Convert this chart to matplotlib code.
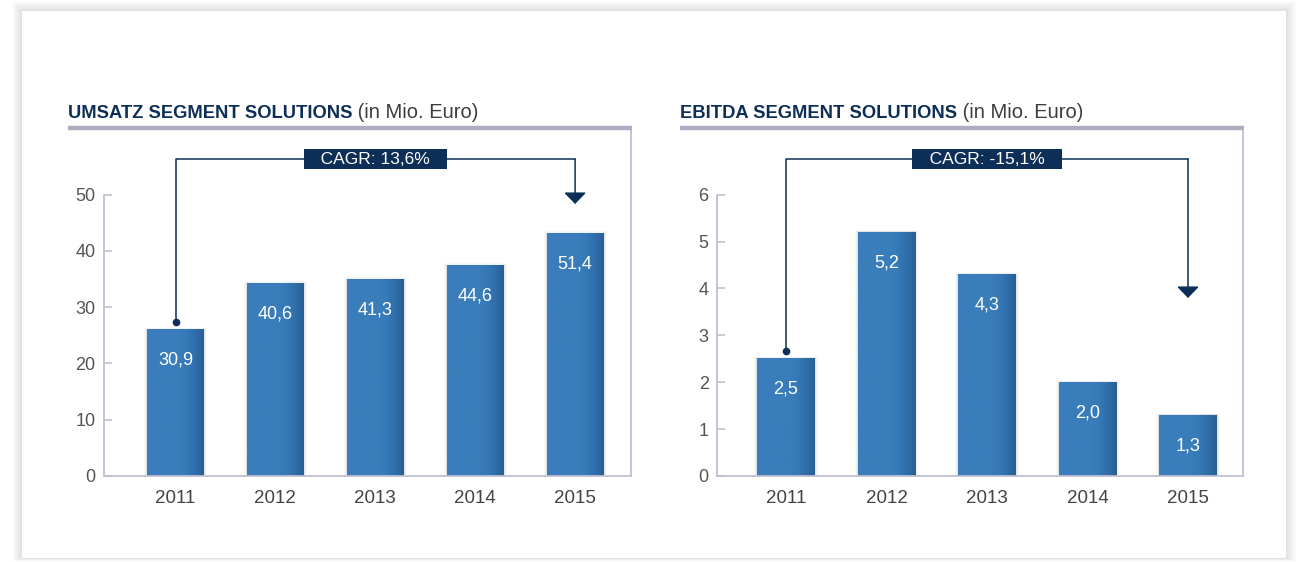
import numpy as np
import matplotlib.pyplot as plt
from matplotlib import font_manager as fm
from matplotlib.patches import Rectangle
from matplotlib.lines import Line2D
from matplotlib.colors import LinearSegmentedColormap
import matplotlib.transforms as mtransforms

# data
years = ['2011', '2012', '2013', '2014', '2015']
umsatz_heights = [26.0, 34.2, 34.9, 37.4, 43.1]   # bar heights as drawn against the axis
umsatz_labels = ['30,9', '40,6', '41,3', '44,6', '51,4']
ebitda_values = [2.5, 5.2, 4.3, 2.0, 1.3]
ebitda_labels = ['2,5', '5,2', '4,3', '2,0', '1,3']
umsatz_ticks = [0, 10, 20, 30, 40, 50]
ebitda_ticks = [0, 1, 2, 3, 4, 5, 6]

names = {f.name for f in fm.fontManager.ttflist}
FONT = 'Liberation Sans Narrow' if 'Liberation Sans Narrow' in names else 'Liberation Sans'
plt.rcParams['font.family'] = [FONT, 'DejaVu Sans']

NAVY = '#0d2f57'
GRID = '#c2bfd1'
W, H = 1301, 562


def fx(px):
    return px / W


def fy(py):
    return 1 - py / H


fig = plt.figure(figsize=(W / 100, H / 100), dpi=100)
fig.patch.set_facecolor('white')

# card with soft shadow
for i in range(10, 0, -1):
    fig.add_artist(Rectangle((fx(22 - i), fy(558 + i * 0.3)), fx(1264 + 2 * i), (547 + i * 1.3) / H,
                             transform=fig.transFigure, facecolor='black', alpha=0.012,
                             edgecolor='none', zorder=-5))
fig.add_artist(Rectangle((fx(22), fy(558)), fx(1264), 547 / H, transform=fig.transFigure,
                         facecolor='white', edgecolor='none', zorder=-4))

bar_cmap = LinearSegmentedColormap.from_list('bar', ['#3a7dbb', '#3579b7', '#2f6ea9', '#285f95'])
grad = np.concatenate([np.zeros(55), np.linspace(0, 1, 45)])[None, :]


def panel(head_x0, ax_x0, ax_x1, first_center, spacing, top, heights, labels, ticks,
          bold, tip_frac, cagr, dot_off):
    ax = fig.add_axes([fx(ax_x0), fy(476), fx(ax_x1 - ax_x0), (476 - 130) / H])
    ax.set_facecolor('none')
    x = np.arange(len(years))
    bw = 0.57
    # soft shadows, mostly above the bar tops
    for k, a in [(0.06, 0.025), (0.04, 0.035), (0.02, 0.05)]:
        ax.bar(x, np.array(heights) + k * top / 10, width=bw + k, color='#000000', alpha=a,
               zorder=1, linewidth=0)
    for xi, h in zip(x, heights):
        ax.imshow(grad, extent=(xi - bw / 2, xi + bw / 2, 0, h), aspect='auto',
                  cmap=bar_cmap, zorder=2, interpolation='bilinear')
    for xi, h, lab in zip(x, heights, labels):
        ax.annotate(lab, (xi, h), xytext=(0, -22), textcoords='offset points',
                    ha='center', va='center', color='white', fontsize=13)
    ax.set_xlim(-(first_center - ax_x0) / spacing, (ax_x1 - first_center) / spacing)
    ax.set_ylim(0, top)
    ax.set_xticks(x, years)
    ax.set_yticks(ticks)
    ax.tick_params(axis='x', length=0, pad=10, labelsize=13.5, labelcolor='#444444')
    ax.tick_params(axis='y', direction='in', length=6, width=1.2, color=GRID, pad=6,
                   labelsize=13, labelcolor='#555555')
    for s in ['left', 'bottom', 'right']:
        ax.spines[s].set_color(GRID)
        ax.spines[s].set_linewidth(1.3)
    ax.spines['top'].set_visible(False)
    ax.spines['left'].set_bounds(0, ticks[-1])

    # header line and title
    fig.add_artist(Line2D([fx(head_x0), fx(ax_x1 + 0.5)], [fy(128)] * 2, lw=3.2,
                          color='#b1adc0', solid_capstyle='butt'))
    t = fig.text(fx(head_x0), fy(118), bold, fontsize=13.2, fontweight='bold',
                 color=NAVY, va='baseline')
    ax.annotate(' (in Mio. Euro)', xy=(1, 0), xycoords=t, va='bottom', ha='left',
                fontsize=14.5, color='#3d3d3d', annotation_clip=False)

    # CAGR bracket
    tr = mtransforms.blended_transform_factory(ax.transData, ax.transAxes)
    hline = 0.916
    start_y = heights[0] + dot_off
    y0_axes = ax.transAxes.inverted().transform(ax.transData.transform((0, start_y)))[1]
    ax.plot([0, 0, 4], [y0_axes, hline, hline], transform=tr, color=NAVY, lw=1.1,
            clip_on=False, zorder=3)
    ax.plot([0], [y0_axes], transform=tr, marker='o', ms=4.5, color=NAVY, clip_on=False,
            zorder=3)
    ax.annotate('', xy=(4, tip_frac), xycoords=tr, xytext=(4, hline), textcoords=tr,
                arrowprops=dict(arrowstyle='-|>,head_length=7,head_width=6.8',
                                mutation_scale=1, color=NAVY, lw=1.1, shrinkA=0, shrinkB=0))
    ax.text(2.0, hline, '   ' + cagr + '   ', transform=tr, ha='center', va='center',
            color='white', fontsize=12.5, zorder=4,
            bbox=dict(boxstyle='square,pad=0.14', facecolor=NAVY, edgecolor='none'))
    return ax


panel(68, 104, 631, 175.5, 99.9, (476 - 130) / 5.63, umsatz_heights, umsatz_labels,
      umsatz_ticks, 'UMSATZ SEGMENT SOLUTIONS', (476 - 204) / 346, 'CAGR: 13,6%', 1.4)
panel(680, 717, 1243, 786, 100.5, (476 - 130) / 46.9, ebitda_values, ebitda_labels,
      ebitda_ticks, 'EBITDA SEGMENT SOLUTIONS', (476 - 298) / 346, 'CAGR: -15,1%', 0.17)

fig.savefig('out.png', dpi=100)
